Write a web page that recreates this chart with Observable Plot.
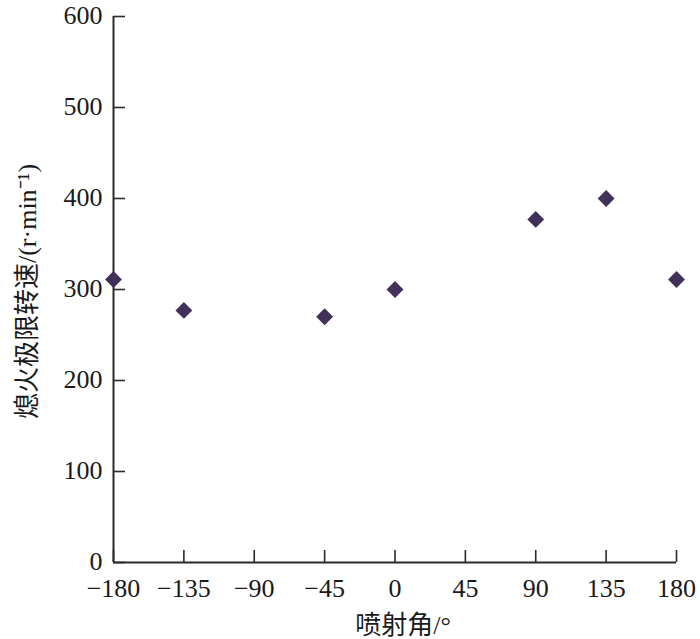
<!DOCTYPE html>
<html>
<head>
<meta charset="utf-8">
<script src="https://cdn.jsdelivr.net/npm/d3@7"></script>
<script src="https://cdn.jsdelivr.net/npm/@observablehq/plot@0.6"></script>
<style>
  body { margin: 0; background: #fff; }
  #chart svg { display: block; }
  #chart svg [aria-label="x-axis tick label"] text,
  #chart svg [aria-label="y-axis tick label"] text {
    font-family: 'Liberation Serif', 'Times New Roman', serif !important;
    font-size: 26px !important;
    fill: #1a1a1a;
  }
  #chart svg .axis-title {
    font-family: 'Liberation Serif', 'Noto Sans CJK SC', serif !important;
    font-size: 26px !important;
  }
</style>
</head>
<body>
<div id="chart"></div>
<script>
const angles = [-180, -135, -45, 0, 90, 135, 180];
const speeds = [311, 277, 270, 300, 377, 400, 311];
const xTicks = [-180, -135, -90, -45, 0, 45, 90, 135, 180];
const yTicks = [0, 100, 200, 300, 400, 500, 600];
const xLabel = "喷射角/°";
const yLabel = "熄火极限转速/(r·min⁻¹)";

const data = angles.map((a, i) => ({angle: a, speed: speeds[i]}));

const W = 700, H = 639;
const mL = 113, mR = 24, mT = 16, mB = 77;
const plotW = W - mL - mR, plotH = H - mT - mB;
const tickLen = 12;
const axisColor = "#2a2a2a";

const chart = Plot.plot({
  width: W,
  height: H,
  marginLeft: mL,
  marginRight: mR,
  marginTop: mT,
  marginBottom: mB,
  style: {background: "#fff", color: "#1a1a1a"},
  x: {domain: [-180, 180]},
  y: {domain: [0, 600]},
  marks: [
    Plot.axisX(xTicks, {tickSize: 0, tickPadding: 16, label: null}),
    Plot.axisY(yTicks, {tickSize: 0, tickPadding: 11, dy: -1, label: null}),
    Plot.tickX(xTicks, {x: d => d, insetTop: plotH - tickLen, stroke: axisColor, strokeWidth: 1.6}),
    Plot.tickY(yTicks, {y: d => d, insetRight: plotW - tickLen, stroke: axisColor, strokeWidth: 1.6}),
    Plot.ruleY([0], {stroke: axisColor, strokeWidth: 2}),
    Plot.ruleX([-180], {stroke: axisColor, strokeWidth: 2}),
    Plot.dot(data, {x: "angle", y: "speed", symbol: "diamond2", r: 7.6, fill: "#41305a", stroke: "none"}),
    Plot.text([xLabel], {frameAnchor: "bottom", dy: 71, dx: 8, lineAnchor: "bottom", className: "axis-title", fill: "#1a1a1a"}),
    Plot.text([yLabel], {frameAnchor: "left", dx: -86, dy: 2, rotate: -90, textAnchor: "middle", className: "axis-title", fill: "#1a1a1a"})
  ]
});
document.getElementById("chart").appendChild(chart);
</script>
</body>
</html>
